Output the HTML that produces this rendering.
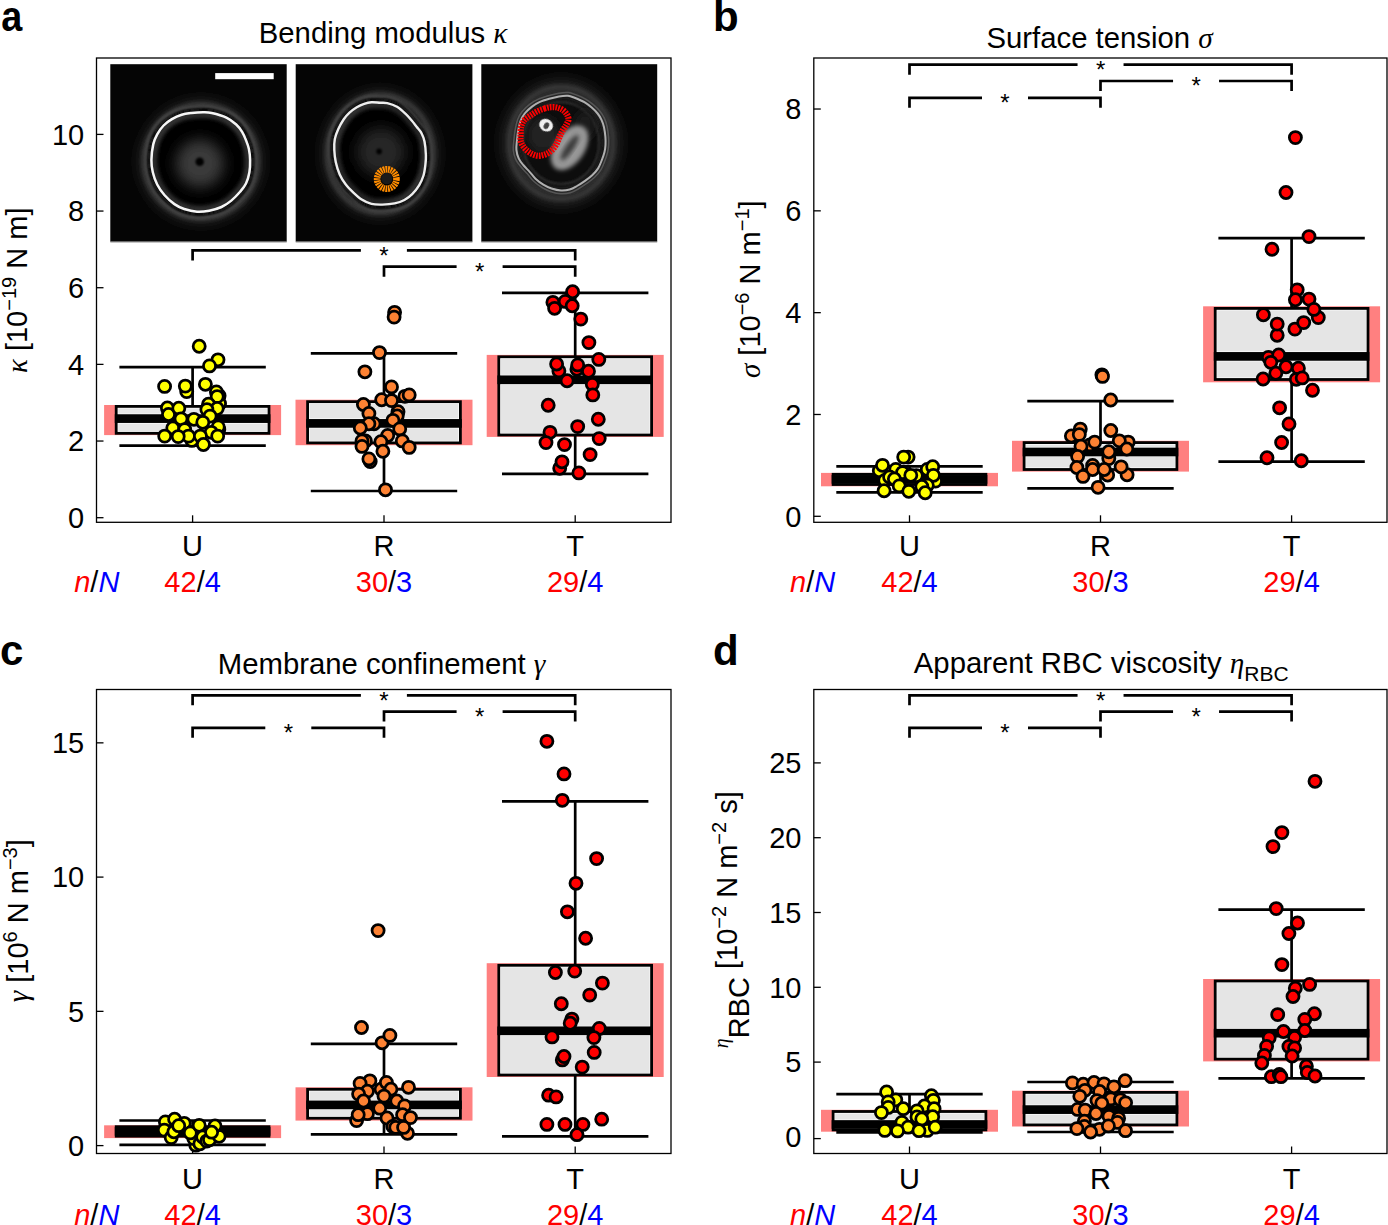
<!DOCTYPE html>
<html><head><meta charset="utf-8"><style>
html,body{margin:0;padding:0;background:#fff;overflow:hidden;width:1388px;height:1225px;}
svg{display:block;}
text{font-family:"Liberation Sans",sans-serif;font-size:29.0px;fill:#000;}
.tl{text-anchor:end;}
.xl{text-anchor:middle;}
.nn{text-anchor:start;}
.ti{text-anchor:middle;font-size:29.3px;}
.yl{text-anchor:middle;}
.gk{font-family:"Liberation Serif",serif;font-style:italic;}
.pl{font-weight:bold;font-size:42px;}
.st{font-size:24px;text-anchor:middle;}
.tk{stroke:#000;stroke-width:1.3;}
.fr{fill:none;stroke:#000;stroke-width:1.3;}
.br{fill:none;stroke:#000;stroke-width:2.7;}
.gU circle{fill:#FFFF00;stroke:#000;stroke-width:2.75;}
.gR circle{fill:#FD8233;stroke:#000;stroke-width:2.75;}
.gT circle{fill:#FF0000;stroke:#000;stroke-width:2.75;}
</style></head>
<body><svg width="1388" height="1225" viewBox="0 0 1388 1225">
<rect width="1388" height="1225" fill="#fff"/>
<defs>
<filter id="b05" x="-30%" y="-30%" width="160%" height="160%"><feGaussianBlur stdDeviation="0.5"/></filter>
<filter id="b1" x="-30%" y="-30%" width="160%" height="160%"><feGaussianBlur stdDeviation="1"/></filter>
<filter id="b2" x="-30%" y="-30%" width="160%" height="160%"><feGaussianBlur stdDeviation="2"/></filter>
<filter id="b4" x="-40%" y="-40%" width="180%" height="180%"><feGaussianBlur stdDeviation="4"/></filter>
<filter id="b7" x="-50%" y="-50%" width="200%" height="200%"><feGaussianBlur stdDeviation="7"/></filter>
<clipPath id="c1"><rect x="110.3" y="64.2" width="176.4" height="177"/></clipPath>
<clipPath id="c2"><rect x="295.7" y="64.2" width="176.7" height="177"/></clipPath>
<clipPath id="c3"><rect x="481.3" y="64.2" width="175.9" height="177"/></clipPath>
</defs>
<rect x="110.3" y="64.2" width="176.4" height="177.6" fill="#050505"/>
<rect x="110.3" y="241.6" width="176.4" height="1.2" fill="#b8b8b8"/>
<g clip-path="url(#c1)">
<circle cx="200.9" cy="161.6" r="60" fill="#2e2e2e" filter="url(#b7)"/>
<circle cx="200.9" cy="161.6" r="57" fill="none" stroke="#4a4a4a" stroke-width="3" filter="url(#b2)"/>
<circle cx="200.9" cy="161.6" r="52.3" fill="none" stroke="#0a0a0a" stroke-width="2" filter="url(#b1)"/>
<circle cx="200.9" cy="161.6" r="47" fill="#060606" filter="url(#b2)"/>
<circle cx="199.9" cy="163.6" r="24" fill="#3a3a3a" filter="url(#b7)"/>
<circle cx="199.7" cy="161.7" r="4.3" fill="#000" filter="url(#b1)"/>
<path d="M252.81 159.91 C252.89 163.99 252.79 168.65 252.07 172.78 C251.35 176.92 250.12 181.26 248.48 184.70 C246.85 188.15 244.84 190.45 242.26 193.46 C239.67 196.47 236.24 200.07 232.97 202.75 C229.70 205.42 226.52 207.72 222.63 209.50 C218.75 211.27 213.96 212.57 209.66 213.40 C205.35 214.23 201.18 214.75 196.79 214.46 C192.39 214.16 187.26 212.94 183.28 211.61 C179.31 210.27 176.39 208.85 172.94 206.44 C169.50 204.03 165.63 200.60 162.60 197.15 C159.58 193.71 156.87 189.82 154.80 185.76 C152.72 181.70 151.17 177.09 150.15 172.78 C149.13 168.48 148.59 164.85 148.68 159.91 C148.77 154.97 149.66 147.66 150.68 143.14 C151.70 138.62 152.99 136.07 154.80 132.80 C156.61 129.53 158.96 126.19 161.55 123.51 C164.13 120.84 167.12 118.66 170.31 116.76 C173.49 114.86 177.20 113.19 180.64 112.12 C184.09 111.05 187.24 110.75 190.98 110.33 C194.73 109.91 199.56 109.59 203.12 109.59 C206.67 109.59 208.18 109.40 212.29 110.33 C216.41 111.26 223.49 113.16 227.80 115.18 C232.11 117.20 235.38 119.96 238.14 122.46 C240.90 124.96 242.64 127.40 244.37 130.16 C246.09 132.92 247.28 136.00 248.48 139.02 C249.68 142.05 250.82 144.83 251.54 148.31 C252.26 151.79 252.72 155.83 252.81 159.91 Z" fill="none" stroke="#0a0a0a" stroke-width="2" filter="url(#b1)"/>
<path d="M246.66 160.11 C246.73 163.71 246.64 167.82 246.00 171.46 C245.37 175.10 244.28 178.93 242.84 181.97 C241.40 185.01 239.63 187.04 237.36 189.69 C235.08 192.34 232.06 195.51 229.17 197.87 C226.29 200.23 223.48 202.26 220.06 203.82 C216.63 205.39 212.42 206.53 208.62 207.26 C204.82 207.99 201.15 208.46 197.27 208.19 C193.40 207.93 188.87 206.86 185.37 205.68 C181.87 204.50 179.29 203.25 176.25 201.12 C173.22 199.00 169.81 195.98 167.14 192.94 C164.47 189.90 162.09 186.48 160.26 182.90 C158.43 179.32 157.07 175.26 156.17 171.46 C155.27 167.66 154.79 164.47 154.87 160.11 C154.94 155.76 155.73 149.31 156.63 145.32 C157.53 141.34 158.66 139.09 160.26 136.21 C161.86 133.33 163.93 130.38 166.21 128.03 C168.49 125.67 171.12 123.75 173.93 122.07 C176.74 120.40 180.01 118.93 183.04 117.98 C186.08 117.04 188.86 116.77 192.16 116.40 C195.46 116.03 199.72 115.75 202.85 115.75 C205.98 115.75 207.32 115.58 210.94 116.40 C214.57 117.22 220.82 118.90 224.62 120.68 C228.41 122.46 231.30 124.90 233.73 127.10 C236.16 129.30 237.70 131.45 239.22 133.89 C240.74 136.32 241.79 139.03 242.84 141.70 C243.90 144.36 244.90 146.81 245.54 149.88 C246.18 152.95 246.58 156.52 246.66 160.11 Z" fill="none" stroke="#3c3c3c" stroke-width="3" filter="url(#b2)"/>
<path d="M256.00 159.81 C256.10 164.14 255.99 169.09 255.22 173.47 C254.45 177.86 253.15 182.47 251.41 186.13 C249.68 189.79 247.55 192.23 244.80 195.42 C242.06 198.62 238.42 202.44 234.95 205.28 C231.48 208.12 228.10 210.56 223.97 212.45 C219.85 214.33 214.77 215.71 210.20 216.59 C205.62 217.47 201.20 218.03 196.53 217.71 C191.87 217.39 186.41 216.11 182.20 214.69 C177.98 213.27 174.88 211.76 171.22 209.20 C167.56 206.64 163.45 203.00 160.24 199.34 C157.03 195.69 154.16 191.56 151.96 187.25 C149.75 182.94 148.11 178.05 147.03 173.47 C145.95 168.90 145.37 165.05 145.46 159.81 C145.55 154.56 146.51 146.80 147.59 142.00 C148.67 137.20 150.03 134.50 151.96 131.02 C153.88 127.55 156.38 124.01 159.12 121.17 C161.87 118.33 165.04 116.02 168.42 114.00 C171.80 111.98 175.74 110.21 179.40 109.07 C183.05 107.93 186.40 107.62 190.37 107.17 C194.35 106.72 199.48 106.38 203.25 106.38 C207.02 106.38 208.63 106.18 213.00 107.17 C217.36 108.16 224.89 110.17 229.46 112.32 C234.03 114.47 237.51 117.40 240.44 120.05 C243.37 122.70 245.21 125.29 247.04 128.22 C248.87 131.15 250.14 134.42 251.41 137.63 C252.68 140.84 253.89 143.79 254.66 147.49 C255.43 151.18 255.91 155.48 256.00 159.81 Z" fill="none" stroke="#4a4a4a" stroke-width="1.6" filter="url(#b1)"/>
<path d="M250.10 160.00 C250.18 163.87 250.08 168.28 249.40 172.20 C248.72 176.12 247.55 180.23 246.00 183.50 C244.45 186.77 242.55 188.95 240.10 191.80 C237.65 194.65 234.40 198.07 231.30 200.60 C228.20 203.13 225.18 205.32 221.50 207.00 C217.82 208.68 213.28 209.92 209.20 210.70 C205.12 211.48 201.17 211.98 197.00 211.70 C192.83 211.42 187.97 210.27 184.20 209.00 C180.43 207.73 177.67 206.38 174.40 204.10 C171.13 201.82 167.47 198.57 164.60 195.30 C161.73 192.03 159.17 188.35 157.20 184.50 C155.23 180.65 153.77 176.28 152.80 172.20 C151.83 168.12 151.32 164.68 151.40 160.00 C151.48 155.32 152.33 148.38 153.30 144.10 C154.27 139.82 155.48 137.40 157.20 134.30 C158.92 131.20 161.15 128.03 163.60 125.50 C166.05 122.97 168.88 120.90 171.90 119.10 C174.92 117.30 178.43 115.72 181.70 114.70 C184.97 113.68 187.95 113.40 191.50 113.00 C195.05 112.60 199.63 112.30 203.00 112.30 C206.37 112.30 207.80 112.12 211.70 113.00 C215.60 113.88 222.32 115.68 226.40 117.60 C230.48 119.52 233.58 122.13 236.20 124.50 C238.82 126.87 240.47 129.18 242.10 131.80 C243.73 134.42 244.87 137.33 246.00 140.20 C247.13 143.07 248.22 145.70 248.90 149.00 C249.58 152.30 250.02 156.13 250.10 160.00 Z" fill="none" stroke="#f6f6f6" stroke-width="2.5" filter="url(#b05)"/>
</g>
<rect x="215.2" y="73.1" width="58.5" height="6.1" fill="#fff"/>
<rect x="295.7" y="64.2" width="176.7" height="177.6" fill="#050505"/>
<rect x="295.7" y="241.6" width="176.7" height="1.2" fill="#b8b8b8"/>
<g clip-path="url(#c2)">
<ellipse cx="380.2" cy="153.8" rx="56" ry="62" fill="#2e2e2e" filter="url(#b7)"/>
<ellipse cx="380.2" cy="153.8" rx="53" ry="59" fill="none" stroke="#484848" stroke-width="3" filter="url(#b2)"/>
<ellipse cx="380.2" cy="153.8" rx="48.6" ry="54.2" fill="none" stroke="#0a0a0a" stroke-width="2" filter="url(#b1)"/>
<ellipse cx="380.2" cy="153.8" rx="43" ry="49" fill="#060606" filter="url(#b2)"/>
<circle cx="381" cy="152" r="24" fill="#262626" filter="url(#b7)"/>
<circle cx="379.1" cy="151.4" r="2.8" fill="#000" filter="url(#b1)"/>
<path d="M428.41 155.07 C428.57 159.15 428.31 161.69 427.89 165.30 C427.46 168.90 426.99 173.07 425.88 176.69 C424.77 180.32 423.23 183.76 421.24 187.03 C419.25 190.30 416.54 193.73 413.96 196.32 C411.38 198.90 408.83 200.91 405.73 202.54 C402.64 204.18 399.28 205.32 395.39 206.13 C391.51 206.94 386.48 207.31 382.42 207.39 C378.35 207.48 374.64 207.55 371.02 206.66 C367.40 205.76 363.87 204.00 360.68 202.01 C357.50 200.03 354.76 197.41 351.93 194.73 C349.10 192.06 346.11 189.16 343.70 185.98 C341.29 182.79 339.20 179.52 337.47 175.64 C335.75 171.75 334.31 166.97 333.36 162.66 C332.41 158.35 331.95 153.85 331.78 149.79 C331.60 145.73 331.62 141.93 332.30 138.29 C332.99 134.65 334.34 131.40 335.89 127.95 C337.44 124.51 339.60 120.55 341.59 117.61 C343.57 114.68 345.49 112.50 347.81 110.33 C350.13 108.17 352.93 106.18 355.51 104.64 C358.10 103.09 360.74 101.91 363.32 101.05 C365.90 100.19 368.24 99.66 371.02 99.47 C373.80 99.27 377.23 99.75 379.99 99.89 C382.75 100.03 384.60 99.59 387.58 100.31 C390.57 101.03 394.72 102.37 397.92 104.22 C401.12 106.06 404.20 108.98 406.79 111.39 C409.37 113.80 411.46 116.35 413.43 118.67 C415.40 120.99 416.88 123.08 418.60 125.31 C420.33 127.55 422.38 129.48 423.77 132.07 C425.16 134.65 426.16 136.99 426.94 140.82 C427.71 144.66 428.26 150.99 428.41 155.07 Z" fill="none" stroke="#0a0a0a" stroke-width="2" filter="url(#b1)"/>
<path d="M422.70 154.92 C422.84 158.51 422.61 160.76 422.24 163.94 C421.86 167.11 421.45 170.79 420.47 173.98 C419.49 177.17 418.13 180.21 416.38 183.10 C414.63 185.98 412.24 189.00 409.96 191.28 C407.68 193.56 405.43 195.32 402.71 196.77 C399.98 198.21 397.02 199.22 393.59 199.93 C390.17 200.64 385.73 200.97 382.15 201.04 C378.57 201.12 375.30 201.18 372.11 200.39 C368.92 199.60 365.80 198.05 363.00 196.30 C360.19 194.55 357.77 192.24 355.28 189.88 C352.78 187.53 350.15 184.97 348.02 182.17 C345.90 179.36 344.05 176.48 342.53 173.05 C341.02 169.63 339.75 165.41 338.91 161.61 C338.07 157.81 337.67 153.85 337.51 150.27 C337.36 146.69 337.37 143.34 337.98 140.13 C338.58 136.92 339.78 134.05 341.14 131.02 C342.50 127.98 344.41 124.49 346.16 121.90 C347.91 119.31 349.60 117.39 351.65 115.48 C353.69 113.58 356.16 111.83 358.44 110.46 C360.72 109.10 363.04 108.06 365.32 107.30 C367.60 106.54 369.66 106.08 372.11 105.91 C374.56 105.73 377.58 106.15 380.01 106.28 C382.45 106.40 384.07 106.01 386.71 106.65 C389.34 107.28 393.00 108.46 395.82 110.09 C398.64 111.72 401.36 114.29 403.64 116.41 C405.91 118.54 407.76 120.78 409.50 122.83 C411.23 124.88 412.53 126.72 414.05 128.69 C415.57 130.66 417.38 132.36 418.61 134.64 C419.83 136.92 420.72 138.98 421.40 142.36 C422.08 145.74 422.56 151.32 422.70 154.92 Z" fill="none" stroke="#383838" stroke-width="3" filter="url(#b2)"/>
<path d="M431.38 155.14 C431.55 159.47 431.27 162.18 430.82 166.01 C430.38 169.83 429.87 174.26 428.70 178.10 C427.52 181.95 425.88 185.61 423.77 189.08 C421.66 192.55 418.78 196.19 416.04 198.94 C413.30 201.68 410.59 203.81 407.30 205.54 C404.02 207.28 400.45 208.49 396.33 209.35 C392.20 210.21 386.86 210.60 382.55 210.70 C378.24 210.79 374.30 210.86 370.46 209.91 C366.61 208.96 362.86 207.09 359.48 204.98 C356.10 202.87 353.19 200.09 350.18 197.26 C347.18 194.42 344.01 191.34 341.45 187.96 C338.89 184.58 336.67 181.11 334.84 176.98 C333.01 172.86 331.48 167.78 330.47 163.21 C329.46 158.63 328.98 153.86 328.79 149.54 C328.61 145.23 328.62 141.20 329.35 137.34 C330.08 133.47 331.52 130.02 333.16 126.36 C334.80 122.70 337.10 118.50 339.21 115.38 C341.32 112.27 343.35 109.95 345.82 107.66 C348.28 105.36 351.25 103.25 353.99 101.61 C356.74 99.97 359.54 98.71 362.28 97.80 C365.02 96.89 367.51 96.33 370.46 96.12 C373.41 95.91 377.05 96.42 379.98 96.57 C382.91 96.72 384.87 96.25 388.04 97.02 C391.21 97.78 395.62 99.20 399.02 101.16 C402.41 103.12 405.68 106.22 408.42 108.78 C411.17 111.33 413.39 114.04 415.48 116.50 C417.57 118.97 419.14 121.19 420.97 123.56 C422.80 125.93 424.98 127.98 426.46 130.73 C427.93 133.47 428.99 135.95 429.82 140.02 C430.64 144.09 431.22 150.81 431.38 155.14 Z" fill="none" stroke="#4a4a4a" stroke-width="1.6" filter="url(#b1)"/>
<path d="M425.90 155.00 C426.05 158.87 425.80 161.28 425.40 164.70 C425.00 168.12 424.55 172.07 423.50 175.50 C422.45 178.93 420.98 182.20 419.10 185.30 C417.22 188.40 414.65 191.65 412.20 194.10 C409.75 196.55 407.33 198.45 404.40 200.00 C401.47 201.55 398.28 202.63 394.60 203.40 C390.92 204.17 386.15 204.52 382.30 204.60 C378.45 204.68 374.93 204.75 371.50 203.90 C368.07 203.05 364.72 201.38 361.70 199.50 C358.68 197.62 356.08 195.13 353.40 192.60 C350.72 190.07 347.88 187.32 345.60 184.30 C343.32 181.28 341.33 178.18 339.70 174.50 C338.07 170.82 336.70 166.28 335.80 162.20 C334.90 158.12 334.47 153.85 334.30 150.00 C334.13 146.15 334.15 142.55 334.80 139.10 C335.45 135.65 336.73 132.57 338.20 129.30 C339.67 126.03 341.72 122.28 343.60 119.50 C345.48 116.72 347.30 114.65 349.50 112.60 C351.70 110.55 354.35 108.67 356.80 107.20 C359.25 105.73 361.75 104.62 364.20 103.80 C366.65 102.98 368.87 102.48 371.50 102.30 C374.13 102.12 377.38 102.57 380.00 102.70 C382.62 102.83 384.37 102.42 387.20 103.10 C390.03 103.78 393.97 105.05 397.00 106.80 C400.03 108.55 402.95 111.32 405.40 113.60 C407.85 115.88 409.83 118.30 411.70 120.50 C413.57 122.70 414.97 124.68 416.60 126.80 C418.23 128.92 420.18 130.75 421.50 133.20 C422.82 135.65 423.77 137.87 424.50 141.50 C425.23 145.13 425.75 151.13 425.90 155.00 Z" fill="none" stroke="#eeeeee" stroke-width="2.4" filter="url(#b05)"/>
<circle cx="386.8" cy="178.8" r="5.5" fill="#1a1a1a"/>
<circle cx="386.8" cy="179" r="9.7" fill="none" stroke="#FF8C00" stroke-width="6.6" stroke-dasharray="1.75 0.7"/>
</g>
<rect x="481.3" y="64.2" width="175.9" height="177.6" fill="#050505"/>
<rect x="481.3" y="241.6" width="175.9" height="1.2" fill="#b8b8b8"/>
<g clip-path="url(#c3)">
<ellipse cx="561.1" cy="143.0" rx="58" ry="62" fill="#2c2c2c" filter="url(#b7)"/>
<ellipse cx="561.1" cy="143.0" rx="52" ry="56" fill="none" stroke="#444" stroke-width="3" filter="url(#b2)"/>
<ellipse cx="561.1" cy="143.0" rx="42" ry="45.5" fill="#0a0a0a" filter="url(#b2)"/>
<ellipse cx="561.1" cy="143.0" rx="38" ry="41" fill="none" stroke="#303030" stroke-width="2" filter="url(#b1)"/>
<ellipse cx="543" cy="135" rx="16" ry="18" fill="#222" filter="url(#b4)"/>
<ellipse cx="585" cy="125" rx="10" ry="14" fill="#1c1c1c" filter="url(#b4)"/>
<path d="M608.61 145.14 C608.45 147.81 608.16 150.03 607.54 152.63 C606.91 155.23 606.00 157.84 604.86 160.76 C603.72 163.69 602.44 167.38 600.69 170.18 C598.94 172.98 596.64 175.39 594.38 177.56 C592.11 179.74 589.81 181.32 587.10 183.23 C584.39 185.14 580.91 187.42 578.11 189.01 C575.31 190.60 573.16 191.95 570.30 192.75 C567.45 193.56 564.22 194.00 560.99 193.82 C557.77 193.65 554.09 192.74 550.94 191.69 C547.78 190.63 544.93 189.26 542.05 187.51 C539.18 185.76 536.15 183.48 533.71 181.20 C531.26 178.92 529.50 176.17 527.39 173.82 C525.29 171.46 523.01 169.43 521.08 167.07 C519.16 164.72 517.14 162.49 515.84 159.69 C514.54 156.89 513.59 153.59 513.27 150.28 C512.95 146.96 513.57 143.32 513.91 139.79 C514.25 136.26 514.68 132.48 515.30 129.09 C515.93 125.70 516.52 122.40 517.66 119.46 C518.80 116.52 520.10 114.00 522.15 111.44 C524.20 108.87 527.34 106.07 529.96 104.05 C532.58 102.04 534.81 100.73 537.88 99.34 C540.95 97.95 544.87 96.74 548.37 95.71 C551.86 94.67 555.50 93.67 558.85 93.14 C562.21 92.60 565.70 92.25 568.48 92.50 C571.26 92.75 572.62 93.49 575.55 94.64 C578.47 95.78 582.98 97.60 586.03 99.34 C589.08 101.09 591.49 103.11 593.84 105.12 C596.20 107.14 598.41 109.26 600.15 111.44 C601.90 113.61 603.19 115.73 604.33 118.18 C605.47 120.62 606.31 123.03 607.00 126.09 C607.70 129.16 608.23 133.41 608.50 136.58 C608.77 139.75 608.77 142.46 608.61 145.14 Z" fill="none" stroke="#555" stroke-width="1.5" filter="url(#b05)"/>
<path d="M605.50 145.00 C605.35 147.50 605.08 149.57 604.50 152.00 C603.92 154.43 603.07 156.87 602.00 159.60 C600.93 162.33 599.73 165.78 598.10 168.40 C596.47 171.02 594.32 173.27 592.20 175.30 C590.08 177.33 587.93 178.82 585.40 180.60 C582.87 182.38 579.62 184.52 577.00 186.00 C574.38 187.48 572.37 188.75 569.70 189.50 C567.03 190.25 564.02 190.67 561.00 190.50 C557.98 190.33 554.55 189.48 551.60 188.50 C548.65 187.52 545.98 186.23 543.30 184.60 C540.62 182.97 537.78 180.83 535.50 178.70 C533.22 176.57 531.57 174.00 529.60 171.80 C527.63 169.60 525.50 167.70 523.70 165.50 C521.90 163.30 520.02 161.22 518.80 158.60 C517.58 155.98 516.70 152.90 516.40 149.80 C516.10 146.70 516.68 143.30 517.00 140.00 C517.32 136.70 517.72 133.17 518.30 130.00 C518.88 126.83 519.43 123.75 520.50 121.00 C521.57 118.25 522.78 115.90 524.70 113.50 C526.62 111.10 529.55 108.48 532.00 106.60 C534.45 104.72 536.53 103.50 539.40 102.20 C542.27 100.90 545.93 99.77 549.20 98.80 C552.47 97.83 555.87 96.90 559.00 96.40 C562.13 95.90 565.40 95.57 568.00 95.80 C570.60 96.03 571.87 96.73 574.60 97.80 C577.33 98.87 581.55 100.57 584.40 102.20 C587.25 103.83 589.50 105.72 591.70 107.60 C593.90 109.48 595.97 111.47 597.60 113.50 C599.23 115.53 600.43 117.52 601.50 119.80 C602.57 122.08 603.35 124.33 604.00 127.20 C604.65 130.07 605.15 134.03 605.40 137.00 C605.65 139.97 605.65 142.50 605.50 145.00 Z" fill="none" stroke="#b0b0b0" stroke-width="2" filter="url(#b05)"/>
<ellipse cx="569.6" cy="147.7" rx="15" ry="25" transform="rotate(34 569.6 147.7)" fill="#969696" filter="url(#b2)"/>
<ellipse cx="569.6" cy="147.7" rx="4" ry="15" transform="rotate(34 569.6 147.7)" fill="#3a3a3a" filter="url(#b2)"/>
<ellipse cx="546.1" cy="125.2" rx="7" ry="6.2" transform="rotate(30 546.1 125.2)" fill="#f0f0f0" filter="url(#b05)"/>
<ellipse cx="546.6" cy="125.5" rx="2.5" ry="3.5" transform="rotate(30 546.1 125.2)" fill="#404040" filter="url(#b05)"/>
<path d="M544.30 108.60 C546.65 107.88 548.88 107.37 551.00 107.20 C553.12 107.03 555.03 107.13 557.00 107.60 C558.97 108.07 561.13 108.82 562.80 110.00 C564.47 111.18 566.05 113.10 567.00 114.70 C567.95 116.30 568.62 117.88 568.50 119.60 C568.38 121.32 567.28 123.17 566.30 125.00 C565.32 126.83 563.70 128.68 562.60 130.60 C561.50 132.52 560.63 134.43 559.70 136.50 C558.77 138.57 558.03 141.00 557.00 143.00 C555.97 145.00 554.83 146.92 553.50 148.50 C552.17 150.08 550.67 151.42 549.00 152.50 C547.33 153.58 545.43 154.47 543.50 155.00 C541.57 155.53 539.55 156.00 537.40 155.70 C535.25 155.40 532.72 154.43 530.60 153.20 C528.48 151.97 526.33 150.25 524.70 148.30 C523.07 146.35 521.48 143.80 520.80 141.50 C520.12 139.20 520.52 137.05 520.60 134.50 C520.68 131.95 520.62 128.65 521.30 126.20 C521.98 123.75 523.15 121.60 524.70 119.80 C526.25 118.00 528.57 116.78 530.60 115.40 C532.63 114.02 534.62 112.63 536.90 111.50 C539.18 110.37 541.95 109.32 544.30 108.60 Z" fill="none" stroke="#FF0000" stroke-width="6.2" stroke-dasharray="1.75 1.05"/>
</g>
<line x1="96.5" y1="517.7" x2="103.5" y2="517.7" class="tk"/>
<text x="84.2" y="528" class="tl">0</text>
<line x1="96.5" y1="441.04" x2="103.5" y2="441.04" class="tk"/>
<text x="84.2" y="451.34" class="tl">2</text>
<line x1="96.5" y1="364.38" x2="103.5" y2="364.38" class="tk"/>
<text x="84.2" y="374.68" class="tl">4</text>
<line x1="96.5" y1="287.72" x2="103.5" y2="287.72" class="tk"/>
<text x="84.2" y="298.02" class="tl">6</text>
<line x1="96.5" y1="211.06" x2="103.5" y2="211.06" class="tk"/>
<text x="84.2" y="221.36" class="tl">8</text>
<line x1="96.5" y1="134.4" x2="103.5" y2="134.4" class="tk"/>
<text x="84.2" y="144.7" class="tl">10</text>
<line x1="192.6" y1="522.3" x2="192.6" y2="515.3" class="tk"/>
<line x1="384" y1="522.3" x2="384" y2="515.3" class="tk"/>
<line x1="575.2" y1="522.3" x2="575.2" y2="515.3" class="tk"/>
<g class="gU">
<rect x="104.1" y="405" width="177" height="30.1" fill="#FF8080"/>
<line x1="192.6" y1="367.2" x2="192.6" y2="406" stroke="#000" stroke-width="2.7"/>
<line x1="192.6" y1="433.7" x2="192.6" y2="445.7" stroke="#000" stroke-width="2.7"/>
<line x1="119.4" y1="367.2" x2="265.8" y2="367.2" stroke="#000" stroke-width="2.7"/>
<line x1="119.4" y1="445.7" x2="265.8" y2="445.7" stroke="#000" stroke-width="2.7"/>
<rect x="116.2" y="406.4" width="152.8" height="26.9" fill="#fff" stroke="#000" stroke-width="2.8"/>
<rect x="118.2" y="408.4" width="148.8" height="5.25" fill="#E5E5E5"/>
<rect x="118.2" y="423.55" width="148.8" height="7.75" fill="#E5E5E5"/>
<rect x="114.8" y="414.25" width="155.6" height="8.7" fill="#000"/>
<circle cx="199.2" cy="346.2" r="6.05"/>
<circle cx="218" cy="359.8" r="6.05"/>
<circle cx="209.5" cy="365.9" r="6.05"/>
<circle cx="164.6" cy="386.4" r="6.05"/>
<circle cx="186.7" cy="391.6" r="6.05"/>
<circle cx="185.3" cy="386.1" r="6.05"/>
<circle cx="205.4" cy="384.3" r="6.05"/>
<circle cx="219.1" cy="395.7" r="6.05"/>
<circle cx="216.4" cy="391.9" r="6.05"/>
<circle cx="219.1" cy="403.9" r="6.05"/>
<circle cx="219.5" cy="403.6" r="6.05"/>
<circle cx="217.2" cy="396.6" r="6.05"/>
<circle cx="208.5" cy="404.2" r="6.05"/>
<circle cx="167.4" cy="408" r="6.05"/>
<circle cx="168.5" cy="414.5" r="6.05"/>
<circle cx="178.8" cy="408.2" r="6.05"/>
<circle cx="217.2" cy="408.5" r="6.05"/>
<circle cx="206.9" cy="409.6" r="6.05"/>
<circle cx="210.1" cy="416.1" r="6.05"/>
<circle cx="181" cy="418.8" r="6.05"/>
<circle cx="193.9" cy="419.3" r="6.05"/>
<circle cx="202.8" cy="422.3" r="6.05"/>
<circle cx="218.8" cy="429.6" r="6.05"/>
<circle cx="218.2" cy="426.9" r="6.05"/>
<circle cx="211.2" cy="432.3" r="6.05"/>
<circle cx="172.8" cy="428" r="6.05"/>
<circle cx="184.7" cy="429.6" r="6.05"/>
<circle cx="191.8" cy="440.4" r="6.05"/>
<circle cx="188.5" cy="436.1" r="6.05"/>
<circle cx="178.2" cy="436.6" r="6.05"/>
<circle cx="164.7" cy="436.1" r="6.05"/>
<circle cx="200.4" cy="436.1" r="6.05"/>
<circle cx="217.7" cy="436.1" r="6.05"/>
<circle cx="203.4" cy="444.5" r="6.05"/>

</g>
<g class="gR">
<rect x="295.5" y="399.7" width="177" height="45.5" fill="#FF8080"/>
<line x1="384" y1="353.4" x2="384" y2="401.3" stroke="#000" stroke-width="2.7"/>
<line x1="384" y1="443.3" x2="384" y2="491" stroke="#000" stroke-width="2.7"/>
<line x1="310.8" y1="353.4" x2="457.2" y2="353.4" stroke="#000" stroke-width="2.7"/>
<line x1="310.8" y1="491" x2="457.2" y2="491" stroke="#000" stroke-width="2.7"/>
<rect x="307.6" y="401.7" width="152.8" height="41.2" fill="#fff" stroke="#000" stroke-width="2.8"/>
<rect x="309.6" y="403.7" width="148.8" height="14.75" fill="#E5E5E5"/>
<rect x="309.6" y="428.35" width="148.8" height="12.55" fill="#E5E5E5"/>
<rect x="306.2" y="419.05" width="155.6" height="8.7" fill="#000"/>
<circle cx="394.6" cy="312.3" r="6.05"/>
<circle cx="394.1" cy="317.1" r="6.05"/>
<circle cx="379.5" cy="352.6" r="6.05"/>
<circle cx="364.9" cy="371.8" r="6.05"/>
<circle cx="391.5" cy="386.9" r="6.05"/>
<circle cx="404.9" cy="396.3" r="6.05"/>
<circle cx="409.2" cy="394.9" r="6.05"/>
<circle cx="381.7" cy="399.7" r="6.05"/>
<circle cx="391.5" cy="400.6" r="6.05"/>
<circle cx="363.4" cy="404.5" r="6.05"/>
<circle cx="398" cy="411.7" r="6.05"/>
<circle cx="368.9" cy="413.5" r="6.05"/>
<circle cx="397.2" cy="416" r="6.05"/>
<circle cx="392.9" cy="420.3" r="6.05"/>
<circle cx="374" cy="423.7" r="6.05"/>
<circle cx="368.9" cy="423.7" r="6.05"/>
<circle cx="360.3" cy="428" r="6.05"/>
<circle cx="399.7" cy="428.9" r="6.05"/>
<circle cx="387.7" cy="435.4" r="6.05"/>
<circle cx="365.4" cy="440.9" r="6.05"/>
<circle cx="362" cy="440.9" r="6.05"/>
<circle cx="380.9" cy="441.7" r="6.05"/>
<circle cx="402.3" cy="440.9" r="6.05"/>
<circle cx="409.2" cy="447.4" r="6.05"/>
<circle cx="362" cy="446.4" r="6.05"/>
<circle cx="382.9" cy="451.2" r="6.05"/>
<circle cx="370.2" cy="461.5" r="6.05"/>
<circle cx="368.9" cy="458.9" r="6.05"/>
<circle cx="385.5" cy="489.8" r="6.05"/>

</g>
<g class="gT">
<rect x="486.7" y="354.9" width="177" height="82" fill="#FF8080"/>
<line x1="575.2" y1="292.9" x2="575.2" y2="356.4" stroke="#000" stroke-width="2.7"/>
<line x1="575.2" y1="435.4" x2="575.2" y2="473.8" stroke="#000" stroke-width="2.7"/>
<line x1="502" y1="292.9" x2="648.4" y2="292.9" stroke="#000" stroke-width="2.7"/>
<line x1="502" y1="473.8" x2="648.4" y2="473.8" stroke="#000" stroke-width="2.7"/>
<rect x="498.8" y="356.8" width="152.8" height="78.2" fill="#fff" stroke="#000" stroke-width="2.8"/>
<rect x="500.8" y="358.8" width="148.8" height="16.05" fill="#E5E5E5"/>
<rect x="500.8" y="384.75" width="148.8" height="48.25" fill="#E5E5E5"/>
<rect x="497.4" y="375.45" width="155.6" height="8.7" fill="#000"/>
<circle cx="572.6" cy="291.7" r="6.05"/>
<circle cx="552.9" cy="302.3" r="6.05"/>
<circle cx="554.6" cy="308.3" r="6.05"/>
<circle cx="565.2" cy="301.4" r="6.05"/>
<circle cx="572.2" cy="305.7" r="6.05"/>
<circle cx="580.8" cy="319.1" r="6.05"/>
<circle cx="588.9" cy="342.6" r="6.05"/>
<circle cx="598.8" cy="359.4" r="6.05"/>
<circle cx="558.9" cy="370.9" r="6.05"/>
<circle cx="556.6" cy="364" r="6.05"/>
<circle cx="576.9" cy="369.2" r="6.05"/>
<circle cx="577.7" cy="364.9" r="6.05"/>
<circle cx="588.5" cy="371.2" r="6.05"/>
<circle cx="567.1" cy="380.7" r="6.05"/>
<circle cx="592.3" cy="384.3" r="6.05"/>
<circle cx="592.8" cy="394.9" r="6.05"/>
<circle cx="548.2" cy="405.2" r="6.05"/>
<circle cx="598.3" cy="419.2" r="6.05"/>
<circle cx="577.7" cy="426.6" r="6.05"/>
<circle cx="550" cy="432.3" r="6.05"/>
<circle cx="546" cy="442.6" r="6.05"/>
<circle cx="564.5" cy="444.6" r="6.05"/>
<circle cx="599.2" cy="438.6" r="6.05"/>
<circle cx="590.1" cy="454.6" r="6.05"/>
<circle cx="559.7" cy="468.3" r="6.05"/>
<circle cx="562" cy="461.8" r="6.05"/>
<circle cx="578.9" cy="472.9" r="6.05"/>

</g>
<path d="M192.6 260.4V250.4H360.9 M406.9 250.4H575.2V260.4" class="br"/>
<text x="383.9" y="263.8" class="st">*</text>
<path d="M384 276.7V266.7H456.6 M502.6 266.7H575.2V276.7" class="br"/>
<text x="479.6" y="280.1" class="st">*</text>
<rect x="96.5" y="58" width="574.5" height="464.3" class="fr"/>
<text x="192.6" y="556.3" class="xl">U</text>
<text x="192.6" y="591.5" class="xl"><tspan fill="#f00">42</tspan>/<tspan fill="#00f">4</tspan></text>
<text x="384" y="556.3" class="xl">R</text>
<text x="384" y="591.5" class="xl"><tspan fill="#f00">30</tspan>/<tspan fill="#00f">3</tspan></text>
<text x="575.2" y="556.3" class="xl">T</text>
<text x="575.2" y="591.5" class="xl"><tspan fill="#f00">29</tspan>/<tspan fill="#00f">4</tspan></text>
<text x="74.2" y="591.5" class="nn"><tspan fill="#f00" font-style="italic">n</tspan>/<tspan fill="#00f" font-style="italic">N</tspan></text>
<line x1="813.8" y1="516.3" x2="820.8" y2="516.3" class="tk"/>
<text x="801.5" y="526.6" class="tl">0</text>
<line x1="813.8" y1="414.48" x2="820.8" y2="414.48" class="tk"/>
<text x="801.5" y="424.78" class="tl">2</text>
<line x1="813.8" y1="312.66" x2="820.8" y2="312.66" class="tk"/>
<text x="801.5" y="322.96" class="tl">4</text>
<line x1="813.8" y1="210.84" x2="820.8" y2="210.84" class="tk"/>
<text x="801.5" y="221.14" class="tl">6</text>
<line x1="813.8" y1="109.02" x2="820.8" y2="109.02" class="tk"/>
<text x="801.5" y="119.32" class="tl">8</text>
<line x1="909.5" y1="522.3" x2="909.5" y2="515.3" class="tk"/>
<line x1="1100.5" y1="522.3" x2="1100.5" y2="515.3" class="tk"/>
<line x1="1291.6" y1="522.3" x2="1291.6" y2="515.3" class="tk"/>
<g class="gU">
<rect x="821" y="472.9" width="177" height="13.4" fill="#FF8080"/>
<line x1="909.5" y1="466.4" x2="909.5" y2="473.9" stroke="#000" stroke-width="2.7"/>
<line x1="909.5" y1="484.9" x2="909.5" y2="492.3" stroke="#000" stroke-width="2.7"/>
<line x1="836.3" y1="466.4" x2="982.7" y2="466.4" stroke="#000" stroke-width="2.7"/>
<line x1="836.3" y1="492.3" x2="982.7" y2="492.3" stroke="#000" stroke-width="2.7"/>
<rect x="833.1" y="474.3" width="152.8" height="10.2" fill="#fff" stroke="#000" stroke-width="2.8"/>
<rect x="831.7" y="475.05" width="155.6" height="8.7" fill="#000"/>
<circle cx="908.1" cy="457.1" r="6.05"/>
<circle cx="903.7" cy="457.1" r="6.05"/>
<circle cx="879.3" cy="470.8" r="6.05"/>
<circle cx="882.5" cy="465.3" r="6.05"/>
<circle cx="895.8" cy="469.4" r="6.05"/>
<circle cx="902.6" cy="472.6" r="6.05"/>
<circle cx="927.3" cy="469.4" r="6.05"/>
<circle cx="932.7" cy="466.7" r="6.05"/>
<circle cx="935.5" cy="481.1" r="6.05"/>
<circle cx="933.4" cy="475.3" r="6.05"/>
<circle cx="916.3" cy="475.6" r="6.05"/>
<circle cx="910.8" cy="475.3" r="6.05"/>
<circle cx="884.8" cy="480.4" r="6.05"/>
<circle cx="889.6" cy="477" r="6.05"/>
<circle cx="894.4" cy="479" r="6.05"/>
<circle cx="899.2" cy="485.9" r="6.05"/>
<circle cx="927.3" cy="485.2" r="6.05"/>
<circle cx="921.8" cy="486.5" r="6.05"/>
<circle cx="884.1" cy="490.7" r="6.05"/>
<circle cx="908.8" cy="491.3" r="6.05"/>
<circle cx="925.2" cy="492.7" r="6.05"/>

</g>
<g class="gR">
<rect x="1012" y="440.8" width="177" height="30.8" fill="#FF8080"/>
<line x1="1100.5" y1="401.1" x2="1100.5" y2="442.2" stroke="#000" stroke-width="2.7"/>
<line x1="1100.5" y1="469.9" x2="1100.5" y2="488.3" stroke="#000" stroke-width="2.7"/>
<line x1="1027.3" y1="401.1" x2="1173.7" y2="401.1" stroke="#000" stroke-width="2.7"/>
<line x1="1027.3" y1="488.3" x2="1173.7" y2="488.3" stroke="#000" stroke-width="2.7"/>
<rect x="1024.1" y="442.6" width="152.8" height="26.9" fill="#fff" stroke="#000" stroke-width="2.8"/>
<rect x="1026.1" y="444.6" width="148.8" height="2.45" fill="#E5E5E5"/>
<rect x="1026.1" y="456.95" width="148.8" height="10.55" fill="#E5E5E5"/>
<rect x="1022.7" y="447.65" width="155.6" height="8.7" fill="#000"/>
<circle cx="1101.9" cy="374.8" r="6.05"/>
<circle cx="1102.5" cy="376.4" r="6.05"/>
<circle cx="1110.7" cy="400" r="6.05"/>
<circle cx="1080.3" cy="429.1" r="6.05"/>
<circle cx="1071.4" cy="436" r="6.05"/>
<circle cx="1079.3" cy="434.6" r="6.05"/>
<circle cx="1110.8" cy="430.5" r="6.05"/>
<circle cx="1128.2" cy="442.1" r="6.05"/>
<circle cx="1119.3" cy="440.8" r="6.05"/>
<circle cx="1126.8" cy="449" r="6.05"/>
<circle cx="1089.9" cy="444.9" r="6.05"/>
<circle cx="1094.7" cy="442.1" r="6.05"/>
<circle cx="1081" cy="446.2" r="6.05"/>
<circle cx="1108.8" cy="458.6" r="6.05"/>
<circle cx="1108.8" cy="451.7" r="6.05"/>
<circle cx="1077.6" cy="456.5" r="6.05"/>
<circle cx="1092.6" cy="465.4" r="6.05"/>
<circle cx="1107.7" cy="475" r="6.05"/>
<circle cx="1076.9" cy="467.5" r="6.05"/>
<circle cx="1092.6" cy="469.5" r="6.05"/>
<circle cx="1104.2" cy="469.5" r="6.05"/>
<circle cx="1127.1" cy="474.7" r="6.05"/>
<circle cx="1121.1" cy="466.8" r="6.05"/>
<circle cx="1083" cy="476.4" r="6.05"/>
<circle cx="1098.1" cy="487.3" r="6.05"/>

</g>
<g class="gT">
<rect x="1203.1" y="306.3" width="177" height="76" fill="#FF8080"/>
<line x1="1291.6" y1="238.1" x2="1291.6" y2="308" stroke="#000" stroke-width="2.7"/>
<line x1="1291.6" y1="379.9" x2="1291.6" y2="461.6" stroke="#000" stroke-width="2.7"/>
<line x1="1218.4" y1="238.1" x2="1364.8" y2="238.1" stroke="#000" stroke-width="2.7"/>
<line x1="1218.4" y1="461.6" x2="1364.8" y2="461.6" stroke="#000" stroke-width="2.7"/>
<rect x="1215.2" y="308.4" width="152.8" height="71.1" fill="#fff" stroke="#000" stroke-width="2.8"/>
<rect x="1217.2" y="310.4" width="148.8" height="41.05" fill="#E5E5E5"/>
<rect x="1217.2" y="361.35" width="148.8" height="16.15" fill="#E5E5E5"/>
<rect x="1213.8" y="352.05" width="155.6" height="8.7" fill="#000"/>
<circle cx="1295.4" cy="137.6" r="6.05"/>
<circle cx="1286" cy="192.5" r="6.05"/>
<circle cx="1309" cy="236.6" r="6.05"/>
<circle cx="1272" cy="249.2" r="6.05"/>
<circle cx="1297.2" cy="289.8" r="6.05"/>
<circle cx="1309" cy="299.1" r="6.05"/>
<circle cx="1295.4" cy="299.7" r="6.05"/>
<circle cx="1318.3" cy="317.6" r="6.05"/>
<circle cx="1313.9" cy="309.4" r="6.05"/>
<circle cx="1263.4" cy="314.7" r="6.05"/>
<circle cx="1277.2" cy="335.3" r="6.05"/>
<circle cx="1277.2" cy="324.1" r="6.05"/>
<circle cx="1294.9" cy="329.1" r="6.05"/>
<circle cx="1303.7" cy="322.6" r="6.05"/>
<circle cx="1268.4" cy="357.3" r="6.05"/>
<circle cx="1278.7" cy="355" r="6.05"/>
<circle cx="1270.8" cy="362.3" r="6.05"/>
<circle cx="1286" cy="366.7" r="6.05"/>
<circle cx="1298.4" cy="368.2" r="6.05"/>
<circle cx="1275.8" cy="373.2" r="6.05"/>
<circle cx="1263.1" cy="379" r="6.05"/>
<circle cx="1296.3" cy="379.3" r="6.05"/>
<circle cx="1302.2" cy="377.9" r="6.05"/>
<circle cx="1312.5" cy="390.2" r="6.05"/>
<circle cx="1279.6" cy="407.8" r="6.05"/>
<circle cx="1289" cy="424" r="6.05"/>
<circle cx="1281.6" cy="442.5" r="6.05"/>
<circle cx="1267" cy="457.7" r="6.05"/>
<circle cx="1301.3" cy="460.7" r="6.05"/>

</g>
<path d="M909.5 74.7V64.7H1077.55 M1123.55 64.7H1291.6V74.7" class="br"/>
<text x="1100.55" y="78.1" class="st">*</text>
<path d="M1100.5 91V81H1173.05 M1219.05 81H1291.6V91" class="br"/>
<text x="1196.05" y="94.4" class="st">*</text>
<path d="M909.5 107.8V97.8H982 M1028 97.8H1100.5V107.8" class="br"/>
<text x="1005" y="111.2" class="st">*</text>
<rect x="813.8" y="58" width="573.2" height="464.3" class="fr"/>
<text x="909.5" y="556.3" class="xl">U</text>
<text x="909.5" y="591.5" class="xl"><tspan fill="#f00">42</tspan>/<tspan fill="#00f">4</tspan></text>
<text x="1100.5" y="556.3" class="xl">R</text>
<text x="1100.5" y="591.5" class="xl"><tspan fill="#f00">30</tspan>/<tspan fill="#00f">3</tspan></text>
<text x="1291.6" y="556.3" class="xl">T</text>
<text x="1291.6" y="591.5" class="xl"><tspan fill="#f00">29</tspan>/<tspan fill="#00f">4</tspan></text>
<text x="790" y="591.5" class="nn"><tspan fill="#f00" font-style="italic">n</tspan>/<tspan fill="#00f" font-style="italic">N</tspan></text>
<line x1="96.5" y1="1145.6" x2="103.5" y2="1145.6" class="tk"/>
<text x="84.2" y="1155.9" class="tl">0</text>
<line x1="96.5" y1="1011.35" x2="103.5" y2="1011.35" class="tk"/>
<text x="84.2" y="1021.65" class="tl">5</text>
<line x1="96.5" y1="877.1" x2="103.5" y2="877.1" class="tk"/>
<text x="84.2" y="887.4" class="tl">10</text>
<line x1="96.5" y1="742.85" x2="103.5" y2="742.85" class="tk"/>
<text x="84.2" y="753.15" class="tl">15</text>
<line x1="192.6" y1="1153.5" x2="192.6" y2="1146.5" class="tk"/>
<line x1="384" y1="1153.5" x2="384" y2="1146.5" class="tk"/>
<line x1="575.2" y1="1153.5" x2="575.2" y2="1146.5" class="tk"/>
<g class="gU">
<rect x="104.1" y="1125.3" width="177" height="12.8" fill="#FF8080"/>
<line x1="192.6" y1="1120.5" x2="192.6" y2="1126.3" stroke="#000" stroke-width="2.7"/>
<line x1="192.6" y1="1136.6" x2="192.6" y2="1144.9" stroke="#000" stroke-width="2.7"/>
<line x1="119.4" y1="1120.5" x2="265.8" y2="1120.5" stroke="#000" stroke-width="2.7"/>
<line x1="119.4" y1="1144.9" x2="265.8" y2="1144.9" stroke="#000" stroke-width="2.7"/>
<rect x="116.2" y="1126.7" width="152.8" height="9.5" fill="#fff" stroke="#000" stroke-width="2.8"/>
<rect x="114.8" y="1127.05" width="155.6" height="8.7" fill="#000"/>
<circle cx="165.4" cy="1121.9" r="6.05"/>
<circle cx="164.3" cy="1130.1" r="6.05"/>
<circle cx="171.2" cy="1137.6" r="6.05"/>
<circle cx="173.9" cy="1131.8" r="6.05"/>
<circle cx="174.6" cy="1119.2" r="6.05"/>
<circle cx="184.2" cy="1123.3" r="6.05"/>
<circle cx="178.7" cy="1125.7" r="6.05"/>
<circle cx="195.8" cy="1145.2" r="6.05"/>
<circle cx="193.8" cy="1138.6" r="6.05"/>
<circle cx="190.3" cy="1132.9" r="6.05"/>
<circle cx="199.2" cy="1125.3" r="6.05"/>
<circle cx="199.9" cy="1143.8" r="6.05"/>
<circle cx="202.7" cy="1137" r="6.05"/>
<circle cx="206.8" cy="1141.1" r="6.05"/>
<circle cx="209.5" cy="1139.7" r="6.05"/>
<circle cx="219.1" cy="1136.3" r="6.05"/>
<circle cx="215" cy="1126" r="6.05"/>
<circle cx="211.6" cy="1132.2" r="6.05"/>

</g>
<g class="gR">
<rect x="295.5" y="1087.3" width="177" height="33.3" fill="#FF8080"/>
<line x1="384" y1="1043.8" x2="384" y2="1088.9" stroke="#000" stroke-width="2.7"/>
<line x1="384" y1="1118.6" x2="384" y2="1134.3" stroke="#000" stroke-width="2.7"/>
<line x1="310.8" y1="1043.8" x2="457.2" y2="1043.8" stroke="#000" stroke-width="2.7"/>
<line x1="310.8" y1="1134.3" x2="457.2" y2="1134.3" stroke="#000" stroke-width="2.7"/>
<rect x="307.6" y="1089.3" width="152.8" height="28.9" fill="#fff" stroke="#000" stroke-width="2.8"/>
<rect x="309.6" y="1091.3" width="148.8" height="8.65" fill="#E5E5E5"/>
<rect x="309.6" y="1109.85" width="148.8" height="6.35" fill="#E5E5E5"/>
<rect x="306.2" y="1100.55" width="155.6" height="8.7" fill="#000"/>
<circle cx="378.1" cy="930.6" r="6.05"/>
<circle cx="361.5" cy="1027.5" r="6.05"/>
<circle cx="382.1" cy="1042.8" r="6.05"/>
<circle cx="389.9" cy="1035.4" r="6.05"/>
<circle cx="369.9" cy="1080.8" r="6.05"/>
<circle cx="360.1" cy="1083.4" r="6.05"/>
<circle cx="367.4" cy="1091.2" r="6.05"/>
<circle cx="358.6" cy="1094.1" r="6.05"/>
<circle cx="363.5" cy="1101" r="6.05"/>
<circle cx="381.1" cy="1089.2" r="6.05"/>
<circle cx="386.4" cy="1082.4" r="6.05"/>
<circle cx="390.9" cy="1089.2" r="6.05"/>
<circle cx="384" cy="1096.1" r="6.05"/>
<circle cx="396.8" cy="1101" r="6.05"/>
<circle cx="408.5" cy="1087.3" r="6.05"/>
<circle cx="404.6" cy="1105.9" r="6.05"/>
<circle cx="379.7" cy="1108.2" r="6.05"/>
<circle cx="356.6" cy="1120.6" r="6.05"/>
<circle cx="367.4" cy="1113.7" r="6.05"/>
<circle cx="358.2" cy="1114.7" r="6.05"/>
<circle cx="387" cy="1118" r="6.05"/>
<circle cx="402.6" cy="1114.7" r="6.05"/>
<circle cx="410.5" cy="1117.6" r="6.05"/>
<circle cx="392.8" cy="1126.5" r="6.05"/>
<circle cx="407.5" cy="1133.3" r="6.05"/>
<circle cx="395.8" cy="1127.4" r="6.05"/>
<circle cx="403.6" cy="1127.4" r="6.05"/>

</g>
<g class="gT">
<rect x="486.7" y="963.2" width="177" height="113.8" fill="#FF8080"/>
<line x1="575.2" y1="801.3" x2="575.2" y2="964.9" stroke="#000" stroke-width="2.7"/>
<line x1="575.2" y1="1075.4" x2="575.2" y2="1136.4" stroke="#000" stroke-width="2.7"/>
<line x1="502" y1="801.3" x2="648.4" y2="801.3" stroke="#000" stroke-width="2.7"/>
<line x1="502" y1="1136.4" x2="648.4" y2="1136.4" stroke="#000" stroke-width="2.7"/>
<rect x="498.8" y="965.3" width="152.8" height="109.7" fill="#fff" stroke="#000" stroke-width="2.8"/>
<rect x="500.8" y="967.3" width="148.8" height="58.55" fill="#E5E5E5"/>
<rect x="500.8" y="1035.75" width="148.8" height="37.25" fill="#E5E5E5"/>
<rect x="497.4" y="1026.45" width="155.6" height="8.7" fill="#000"/>
<circle cx="546.9" cy="741.3" r="6.05"/>
<circle cx="564" cy="773.9" r="6.05"/>
<circle cx="562.3" cy="800.3" r="6.05"/>
<circle cx="596.6" cy="858.6" r="6.05"/>
<circle cx="576" cy="883.3" r="6.05"/>
<circle cx="567.4" cy="911.8" r="6.05"/>
<circle cx="585.6" cy="938.2" r="6.05"/>
<circle cx="555.4" cy="972.5" r="6.05"/>
<circle cx="574.7" cy="971.1" r="6.05"/>
<circle cx="602.4" cy="983.1" r="6.05"/>
<circle cx="589.7" cy="995.1" r="6.05"/>
<circle cx="561.3" cy="1003.7" r="6.05"/>
<circle cx="571.9" cy="1019.1" r="6.05"/>
<circle cx="570.2" cy="1023.2" r="6.05"/>
<circle cx="599.3" cy="1028.4" r="6.05"/>
<circle cx="552" cy="1036.9" r="6.05"/>
<circle cx="593.9" cy="1037.6" r="6.05"/>
<circle cx="594.2" cy="1052.4" r="6.05"/>
<circle cx="562.3" cy="1059.9" r="6.05"/>
<circle cx="564" cy="1056.5" r="6.05"/>
<circle cx="582.2" cy="1067.1" r="6.05"/>
<circle cx="548.6" cy="1095.2" r="6.05"/>
<circle cx="556.1" cy="1096.9" r="6.05"/>
<circle cx="546.9" cy="1124.4" r="6.05"/>
<circle cx="565" cy="1124.4" r="6.05"/>
<circle cx="582.9" cy="1124.4" r="6.05"/>
<circle cx="601.7" cy="1119.2" r="6.05"/>
<circle cx="577" cy="1134.7" r="6.05"/>

</g>
<path d="M192.6 705.3V695.3H360.9 M406.9 695.3H575.2V705.3" class="br"/>
<text x="383.9" y="708.7" class="st">*</text>
<path d="M384 721.6V711.6H456.6 M502.6 711.6H575.2V721.6" class="br"/>
<text x="479.6" y="725" class="st">*</text>
<path d="M192.6 737.8V727.8H265.3 M311.3 727.8H384V737.8" class="br"/>
<text x="288.3" y="741.2" class="st">*</text>
<rect x="96.5" y="689.5" width="574.5" height="464" class="fr"/>
<text x="192.6" y="1189.3" class="xl">U</text>
<text x="192.6" y="1225.3" class="xl"><tspan fill="#f00">42</tspan>/<tspan fill="#00f">4</tspan></text>
<text x="384" y="1189.3" class="xl">R</text>
<text x="384" y="1225.3" class="xl"><tspan fill="#f00">30</tspan>/<tspan fill="#00f">3</tspan></text>
<text x="575.2" y="1189.3" class="xl">T</text>
<text x="575.2" y="1225.3" class="xl"><tspan fill="#f00">29</tspan>/<tspan fill="#00f">4</tspan></text>
<text x="74.2" y="1225.3" class="nn"><tspan fill="#f00" font-style="italic">n</tspan>/<tspan fill="#00f" font-style="italic">N</tspan></text>
<line x1="813.8" y1="1138.6" x2="820.8" y2="1138.6" class="tk"/>
<text x="801.5" y="1147.2" class="tl">0</text>
<line x1="813.8" y1="1062.1" x2="820.8" y2="1062.1" class="tk"/>
<text x="801.5" y="1072.4" class="tl">5</text>
<line x1="813.8" y1="987.3" x2="820.8" y2="987.3" class="tk"/>
<text x="801.5" y="997.6" class="tl">10</text>
<line x1="813.8" y1="912.5" x2="820.8" y2="912.5" class="tk"/>
<text x="801.5" y="922.8" class="tl">15</text>
<line x1="813.8" y1="837.7" x2="820.8" y2="837.7" class="tk"/>
<text x="801.5" y="848" class="tl">20</text>
<line x1="813.8" y1="762.9" x2="820.8" y2="762.9" class="tk"/>
<text x="801.5" y="773.2" class="tl">25</text>
<line x1="909.5" y1="1153.5" x2="909.5" y2="1146.5" class="tk"/>
<line x1="1100.5" y1="1153.5" x2="1100.5" y2="1146.5" class="tk"/>
<line x1="1291.6" y1="1153.5" x2="1291.6" y2="1146.5" class="tk"/>
<g class="gU">
<rect x="821" y="1109.8" width="177" height="21.9" fill="#FF8080"/>
<line x1="909.5" y1="1094.1" x2="909.5" y2="1111.1" stroke="#000" stroke-width="2.7"/>
<line x1="909.5" y1="1130.3" x2="909.5" y2="1132.4" stroke="#000" stroke-width="2.7"/>
<line x1="836.3" y1="1094.1" x2="982.7" y2="1094.1" stroke="#000" stroke-width="2.7"/>
<line x1="836.3" y1="1132.4" x2="982.7" y2="1132.4" stroke="#000" stroke-width="2.7"/>
<rect x="833.1" y="1111.5" width="152.8" height="18.4" fill="#fff" stroke="#000" stroke-width="2.8"/>
<rect x="835.1" y="1113.5" width="148.8" height="6.05" fill="#E5E5E5"/>
<rect x="831.7" y="1120.15" width="155.6" height="8.7" fill="#000"/>
<circle cx="886.6" cy="1092" r="6.05"/>
<circle cx="895.8" cy="1099.8" r="6.05"/>
<circle cx="888.2" cy="1101.9" r="6.05"/>
<circle cx="888.2" cy="1107.4" r="6.05"/>
<circle cx="881.4" cy="1112.6" r="6.05"/>
<circle cx="903.3" cy="1108.7" r="6.05"/>
<circle cx="931.4" cy="1095.7" r="6.05"/>
<circle cx="933.4" cy="1100.3" r="6.05"/>
<circle cx="924.5" cy="1106" r="6.05"/>
<circle cx="917" cy="1110.8" r="6.05"/>
<circle cx="934.1" cy="1108.7" r="6.05"/>
<circle cx="932.7" cy="1116.7" r="6.05"/>
<circle cx="917" cy="1117" r="6.05"/>
<circle cx="921.8" cy="1119" r="6.05"/>
<circle cx="901.9" cy="1122.4" r="6.05"/>
<circle cx="908.1" cy="1127.2" r="6.05"/>
<circle cx="884.8" cy="1130.4" r="6.05"/>
<circle cx="897.5" cy="1130.9" r="6.05"/>
<circle cx="927.3" cy="1130.4" r="6.05"/>
<circle cx="919" cy="1130.7" r="6.05"/>
<circle cx="935.2" cy="1127.2" r="6.05"/>

</g>
<g class="gR">
<rect x="1012" y="1090.7" width="177" height="35.8" fill="#FF8080"/>
<line x1="1100.5" y1="1082" x2="1100.5" y2="1092" stroke="#000" stroke-width="2.7"/>
<line x1="1100.5" y1="1125.3" x2="1100.5" y2="1132" stroke="#000" stroke-width="2.7"/>
<line x1="1027.3" y1="1082" x2="1173.7" y2="1082" stroke="#000" stroke-width="2.7"/>
<line x1="1027.3" y1="1132" x2="1173.7" y2="1132" stroke="#000" stroke-width="2.7"/>
<rect x="1024.1" y="1092.4" width="152.8" height="32.5" fill="#fff" stroke="#000" stroke-width="2.8"/>
<rect x="1026.1" y="1094.4" width="148.8" height="10.25" fill="#E5E5E5"/>
<rect x="1026.1" y="1114.55" width="148.8" height="8.35" fill="#E5E5E5"/>
<rect x="1022.7" y="1105.25" width="155.6" height="8.7" fill="#000"/>
<circle cx="1072.4" cy="1082.9" r="6.05"/>
<circle cx="1083.2" cy="1084.2" r="6.05"/>
<circle cx="1094" cy="1082.5" r="6.05"/>
<circle cx="1104" cy="1083.8" r="6.05"/>
<circle cx="1125.1" cy="1080.7" r="6.05"/>
<circle cx="1113.9" cy="1086.8" r="6.05"/>
<circle cx="1084.9" cy="1090.3" r="6.05"/>
<circle cx="1099.6" cy="1091.5" r="6.05"/>
<circle cx="1079.8" cy="1096.3" r="6.05"/>
<circle cx="1110.9" cy="1098.9" r="6.05"/>
<circle cx="1097" cy="1100.6" r="6.05"/>
<circle cx="1101.8" cy="1103.2" r="6.05"/>
<circle cx="1120.4" cy="1099.8" r="6.05"/>
<circle cx="1125.6" cy="1102.8" r="6.05"/>
<circle cx="1077.6" cy="1109.4" r="6.05"/>
<circle cx="1085.1" cy="1110.1" r="6.05"/>
<circle cx="1096" cy="1113.5" r="6.05"/>
<circle cx="1109" cy="1116.3" r="6.05"/>
<circle cx="1118.6" cy="1118.3" r="6.05"/>
<circle cx="1117.3" cy="1122.4" r="6.05"/>
<circle cx="1084.4" cy="1121.1" r="6.05"/>
<circle cx="1084.4" cy="1126.5" r="6.05"/>
<circle cx="1076.9" cy="1128.6" r="6.05"/>
<circle cx="1099.5" cy="1129.3" r="6.05"/>
<circle cx="1108.4" cy="1125.9" r="6.05"/>
<circle cx="1090.6" cy="1132" r="6.05"/>
<circle cx="1125.5" cy="1130.7" r="6.05"/>

</g>
<g class="gT">
<rect x="1203.1" y="979" width="177" height="82.4" fill="#FF8080"/>
<line x1="1291.6" y1="909.6" x2="1291.6" y2="980.6" stroke="#000" stroke-width="2.7"/>
<line x1="1291.6" y1="1059.5" x2="1291.6" y2="1078.3" stroke="#000" stroke-width="2.7"/>
<line x1="1218.4" y1="909.6" x2="1364.8" y2="909.6" stroke="#000" stroke-width="2.7"/>
<line x1="1218.4" y1="1078.3" x2="1364.8" y2="1078.3" stroke="#000" stroke-width="2.7"/>
<rect x="1215.2" y="981" width="152.8" height="78.1" fill="#fff" stroke="#000" stroke-width="2.8"/>
<rect x="1217.2" y="983" width="148.8" height="45.25" fill="#E5E5E5"/>
<rect x="1217.2" y="1038.15" width="148.8" height="18.95" fill="#E5E5E5"/>
<rect x="1213.8" y="1028.85" width="155.6" height="8.7" fill="#000"/>
<circle cx="1315" cy="781.3" r="6.05"/>
<circle cx="1281.9" cy="832.6" r="6.05"/>
<circle cx="1273" cy="846.6" r="6.05"/>
<circle cx="1276.2" cy="908.6" r="6.05"/>
<circle cx="1297.5" cy="923" r="6.05"/>
<circle cx="1288.9" cy="933.5" r="6.05"/>
<circle cx="1281.9" cy="964.6" r="6.05"/>
<circle cx="1309.6" cy="984.4" r="6.05"/>
<circle cx="1295.3" cy="988.2" r="6.05"/>
<circle cx="1293" cy="996.5" r="6.05"/>
<circle cx="1277.7" cy="1014.6" r="6.05"/>
<circle cx="1314.4" cy="1013.7" r="6.05"/>
<circle cx="1304.8" cy="1019.4" r="6.05"/>
<circle cx="1304.8" cy="1030.5" r="6.05"/>
<circle cx="1283.5" cy="1031.5" r="6.05"/>
<circle cx="1269.2" cy="1037.8" r="6.05"/>
<circle cx="1294.6" cy="1037.5" r="6.05"/>
<circle cx="1266.6" cy="1046.4" r="6.05"/>
<circle cx="1288.9" cy="1046.4" r="6.05"/>
<circle cx="1294.6" cy="1048" r="6.05"/>
<circle cx="1264.4" cy="1055.4" r="6.05"/>
<circle cx="1292.1" cy="1056" r="6.05"/>
<circle cx="1261.8" cy="1063" r="6.05"/>
<circle cx="1306.4" cy="1066.2" r="6.05"/>
<circle cx="1307.3" cy="1072.5" r="6.05"/>
<circle cx="1271.4" cy="1076.7" r="6.05"/>
<circle cx="1279.3" cy="1074.5" r="6.05"/>
<circle cx="1280.9" cy="1076.7" r="6.05"/>
<circle cx="1315" cy="1076" r="6.05"/>

</g>
<path d="M909.5 705.3V695.3H1077.55 M1123.55 695.3H1291.6V705.3" class="br"/>
<text x="1100.55" y="708.7" class="st">*</text>
<path d="M1100.5 721.6V711.6H1173.05 M1219.05 711.6H1291.6V721.6" class="br"/>
<text x="1196.05" y="725" class="st">*</text>
<path d="M909.5 737.8V727.8H982 M1028 727.8H1100.5V737.8" class="br"/>
<text x="1005" y="741.2" class="st">*</text>
<rect x="813.8" y="689.5" width="573.2" height="464" class="fr"/>
<text x="909.5" y="1189.3" class="xl">U</text>
<text x="909.5" y="1225.3" class="xl"><tspan fill="#f00">42</tspan>/<tspan fill="#00f">4</tspan></text>
<text x="1100.5" y="1189.3" class="xl">R</text>
<text x="1100.5" y="1225.3" class="xl"><tspan fill="#f00">30</tspan>/<tspan fill="#00f">3</tspan></text>
<text x="1291.6" y="1189.3" class="xl">T</text>
<text x="1291.6" y="1225.3" class="xl"><tspan fill="#f00">29</tspan>/<tspan fill="#00f">4</tspan></text>
<text x="790" y="1225.3" class="nn"><tspan fill="#f00" font-style="italic">n</tspan>/<tspan fill="#00f" font-style="italic">N</tspan></text>
<text transform="translate(27.1 290.3) rotate(-90)" class="yl"><tspan class="gk">κ</tspan> [10<tspan dy="-11" font-size="20">−19</tspan><tspan dy="11"> N m]</tspan></text>
<text transform="translate(760.2 289.2) rotate(-90)" class="yl"><tspan class="gk">σ</tspan> [10<tspan dy="-11" font-size="20">−6</tspan><tspan dy="11"> N m</tspan><tspan dy="-11" font-size="20">−1</tspan><tspan dy="11">]</tspan></text>
<text transform="translate(27.5 920.7) rotate(-90)" class="yl"><tspan class="gk">γ</tspan> [10<tspan dy="-11" font-size="20">6</tspan><tspan dy="11"> N m</tspan><tspan dy="-11" font-size="20">−3</tspan><tspan dy="11">]</tspan></text>
<text transform="translate(737.3 919.7) rotate(-90)" class="yl"><tspan class="gk" font-size="20" dy="-9">η</tspan><tspan dy="21">RBC</tspan><tspan dy="-12"> [10</tspan><tspan dy="-11" font-size="20">−2</tspan><tspan dy="11"> N m</tspan><tspan dy="-11" font-size="20">−2</tspan><tspan dy="11"> s]</tspan></text>
<text x="383.1" y="42.7" class="ti">Bending modulus <tspan class="gk">κ</tspan></text>
<text x="1099.6" y="48" class="ti">Surface tension <tspan class="gk">σ</tspan></text>
<text x="381.6" y="673.6" class="ti">Membrane confinement <tspan class="gk">γ</tspan></text>
<text x="1101.2" y="672.5" class="ti">Apparent RBC viscosity <tspan class="gk">η</tspan><tspan dy="8.3" font-size="21">RBC</tspan></text>
<text x="0" y="30.5" class="pl" transform="translate(1.2 0) scale(0.9 1)">a</text>
<text x="713" y="31" class="pl">b</text>
<text x="0" y="665" class="pl">c</text>
<text x="713" y="664.7" class="pl">d</text>
</svg></body></html>
